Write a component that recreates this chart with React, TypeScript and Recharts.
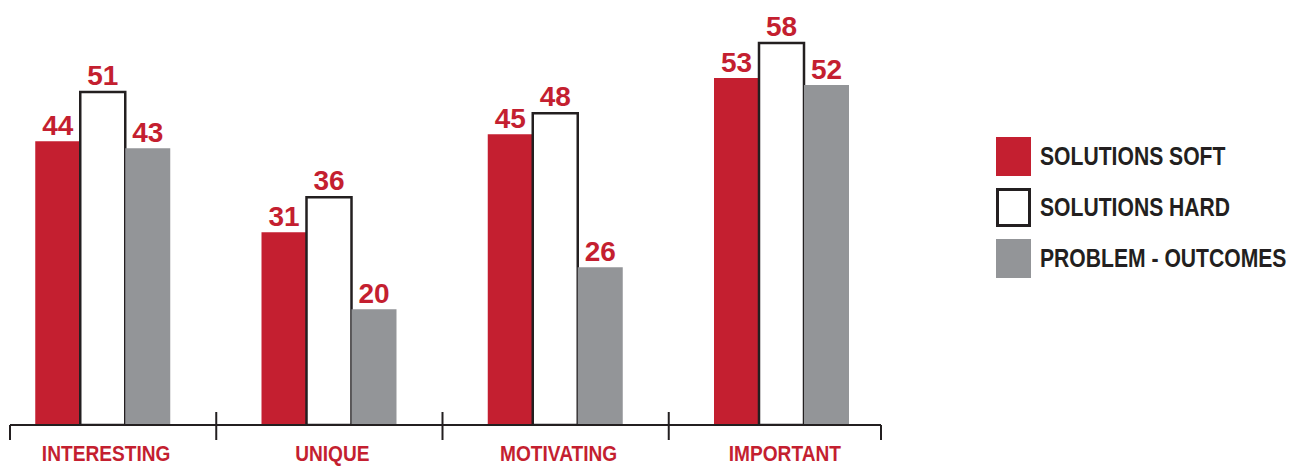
import React from 'react';
import { BarChart, Bar, XAxis, YAxis, LabelList } from 'recharts';

const categories = ['INTERESTING', 'UNIQUE', 'MOTIVATING', 'IMPORTANT'];
const solutionsSoft = [44, 31, 45, 53];
const solutionsHard = [51, 36, 48, 58];
const problemOutcomes = [43, 20, 26, 52];

const seriesNames = ['SOLUTIONS SOFT', 'SOLUTIONS HARD', 'PROBLEM - OUTCOMES'];

const RED = '#C41F30';
const GRAY = '#939598';
const DARK = '#231F20';
const FONT = '"Liberation Sans", Arial, sans-serif';

const data = categories.map((c, i) => ({
  name: c,
  soft: solutionsSoft[i],
  hard: solutionsHard[i],
  outcomes: problemOutcomes[i],
}));

const W = 1320;
const H = 458;
const MARGIN = { top: 0, right: 405, bottom: 0, left: 10 };
const XH = 41;
const plotWidth = W - MARGIN.left - MARGIN.right;
const bandWidth = plotWidth / categories.length;

const AxisTick = (props: any) => {
  const { x, y, payload, index } = props;
  const n = categories.length;
  const half = bandWidth / 2;
  const left = index === 0 ? x - half + 20 : x - half;
  const right = index === n - 1 ? x + half - 14 : x + half;
  return (
    <g>
      <line x1={left} x2={right} y1={y} y2={y} stroke={DARK} strokeWidth={2} />
      {index === 0 ? (
        <line x1={left} x2={left} y1={y} y2={y + 15} stroke={DARK} strokeWidth={2} />
      ) : (
        <line x1={left} x2={left} y1={y - 13} y2={y + 15} stroke={DARK} strokeWidth={2} />
      )}
      {index === n - 1 && (
        <line x1={right} x2={right} y1={y} y2={y + 15} stroke={DARK} strokeWidth={2} />
      )}
      <text
        transform={`translate(${x + 3}, ${y + 36}) scale(0.85, 1)`}
        textAnchor="middle"
        fill={RED}
        fontFamily={FONT}
        fontWeight="bold"
        fontSize={22.5}
      >
        {payload.value}
      </text>
    </g>
  );
};

const LegendBlock = () => {
  const swatches = [
    { fill: RED, border: 'none' },
    { fill: '#fff', border: `3px solid ${DARK}` },
    { fill: GRAY, border: 'none' },
  ];
  return (
    <div style={{ position: 'absolute', left: 1016, top: 123 }}>
      {seriesNames.map((s, i) => (
        <div key={s} style={{ display: 'flex', alignItems: 'center', height: 51 }}>
          <div
            style={{
              width: 35,
              height: 39,
              boxSizing: 'border-box',
              background: swatches[i].fill,
              border: swatches[i].border,
              marginRight: 9,
              flex: 'none',
            }}
          />
          <span
            style={{
              display: 'inline-block',
              fontFamily: FONT,
              fontWeight: 'bold',
              fontSize: 25,
              color: DARK,
              whiteSpace: 'nowrap',
              transform: 'scaleX(0.845)',
              transformOrigin: 'left center',
            }}
          >
            {s}
          </span>
        </div>
      ))}
    </div>
  );
};

const labelStyle = { fontFamily: FONT, fontWeight: 'bold', fontSize: 28 } as any;

export default function App() {
  return (
    <div style={{ position: 'relative', marginLeft: -28, width: W, height: H }}>
      <style>{'html, body { overflow: hidden; }'}</style>
      <BarChart
        width={W}
        height={H}
        data={data}
        margin={MARGIN}
        barCategoryGap="20%"
        barGap={0}
      >
        <XAxis
          dataKey="name"
          height={XH}
          axisLine={false}
          tickLine={false}
          tickSize={0}
          tickMargin={0}
          interval={0}
          tick={<AxisTick />}
        />
        <YAxis hide domain={[3.5, 63]} allowDataOverflow />
        <Bar dataKey="soft" fill={RED} isAnimationActive={false}>
          <LabelList dataKey="soft" position="top" offset={6} fill={RED} style={labelStyle} />
        </Bar>
        <Bar dataKey="hard" fill="#fff" stroke={DARK} strokeWidth={2.5} isAnimationActive={false}>
          <LabelList dataKey="hard" position="top" offset={7} fill={RED} style={labelStyle} />
        </Bar>
        <Bar dataKey="outcomes" fill={GRAY} isAnimationActive={false}>
          <LabelList dataKey="outcomes" position="top" offset={6} fill={RED} style={labelStyle} />
        </Bar>
      </BarChart>
      <LegendBlock />
    </div>
  );
}
